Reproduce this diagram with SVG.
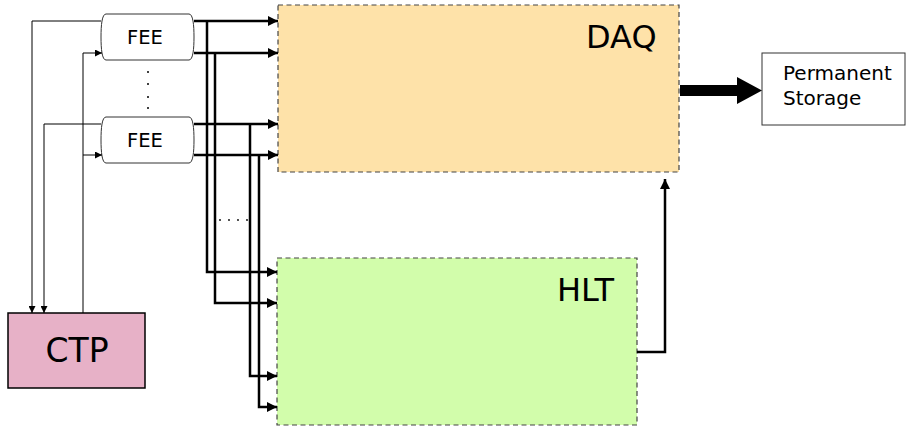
<svg xmlns="http://www.w3.org/2000/svg" width="907" height="426" viewBox="0 0 907 426">
<defs>
<style>
text{font-family:"DejaVu Sans","Liberation Sans",sans-serif;fill:#000}
.thin{fill:none;stroke:#000;stroke-width:1}
.thick{fill:none;stroke:#000;stroke-width:2.5}
.dash{stroke:#444;stroke-width:1.2;stroke-dasharray:5,3.5}
</style>
<marker id="ah" viewBox="0 0 10 10" refX="10" refY="5" markerWidth="10" markerHeight="10" markerUnits="userSpaceOnUse" orient="auto">
<path d="M0,0 L10,5 L0,10 Z" fill="#000"/>
</marker>
<marker id="as" viewBox="0 0 10 10" refX="10" refY="5" markerWidth="7" markerHeight="7" markerUnits="userSpaceOnUse" orient="auto">
<path d="M0,0 L10,5 L0,10 Z" fill="#000"/>
</marker>
</defs>
<rect width="907" height="426" fill="#fff"/>

<g id="daq">
<rect x="278" y="5" width="401" height="167" fill="#fee2a9" class="dash"/>
<text x="586" y="48" font-size="32">DAQ</text>
</g>
<g id="hlt">
<rect x="277" y="258" width="360" height="167" fill="#d2fdab" class="dash"/>
<text x="557" y="301" font-size="32">HLT</text>
</g>
<g id="ctp">
<rect x="8" y="313" width="137" height="75" fill="#e7b1c7" stroke="#000" stroke-width="1.5"/>
<text x="77" y="362" font-size="33" text-anchor="middle">CTP</text>
</g>
<g id="fee1">
<path d="M106,14 L189,14 C193,14 194,25 194,37 C194,49 193,60 189,60 L106,60 C102,60 101,49 101,37 C101,25 102,14 106,14 Z" fill="#fff" stroke="#333" stroke-width="1"/>
<text x="145" y="44" font-size="19.5" text-anchor="middle">FEE</text>
</g>
<g id="fee2">
<path d="M106,117 L189,117 C193,117 194,128 194,140 C194,152 193,163 189,163 L106,163 C102,163 101,152 101,140 C101,128 102,117 106,117 Z" fill="#fff" stroke="#333" stroke-width="1"/>
<text x="145" y="147" font-size="19.5" text-anchor="middle">FEE</text>
</g>
<g id="storage">
<rect x="762" y="53" width="143" height="72" fill="#fff" stroke="#333" stroke-width="1"/>
<text x="783" y="80" font-size="20">Permanent</text>
<text x="783" y="105" font-size="20">Storage</text>
</g>
<g id="dots" fill="#000">
<circle cx="148" cy="72" r="1"/><circle cx="148" cy="84" r="1"/><circle cx="148" cy="97" r="1"/><circle cx="148" cy="108" r="1"/>
<circle cx="220" cy="220" r="0.9"/><circle cx="229" cy="220" r="0.9"/><circle cx="238" cy="220" r="0.9"/><circle cx="247" cy="220" r="0.9"/>
</g>

<g id="connectors">
<path class="thin" d="M101,21 H32 V313" marker-end="url(#as)"/>
<path class="thin" d="M101,124 H44 V313" marker-end="url(#as)"/>
<path class="thin" d="M83,313 V53 H102" marker-end="url(#as)"/>
<path class="thin" d="M83,155 H102" marker-end="url(#as)"/>

<path class="thick" d="M194,21 H278" marker-end="url(#ah)"/>
<path class="thick" d="M194,53 H278" marker-end="url(#ah)"/>
<path class="thick" d="M194,124 H278" marker-end="url(#ah)"/>
<path class="thick" d="M194,155 H278" marker-end="url(#ah)"/>

<path class="thick" d="M207,21 V272 H277" marker-end="url(#ah)"/>
<path class="thick" d="M215,53 V303 H277" marker-end="url(#ah)"/>
<path class="thick" d="M250,124 V376 H277" marker-end="url(#ah)"/>
<path class="thick" d="M259,155 V407 H277" marker-end="url(#ah)"/>

<path class="thick" d="M637,352 H665 V179" marker-end="url(#ah)"/>

<path d="M680,85 H737 V77 L762,90.5 L737,104 V96 H680 Z" fill="#000"/>
</g>
</svg>
